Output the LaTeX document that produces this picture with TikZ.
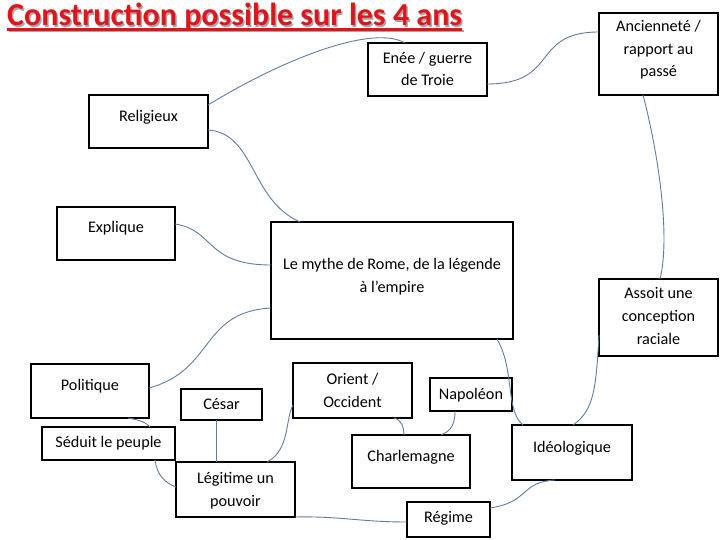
\documentclass[tikz,border=0pt]{standalone}
\usepackage{fontspec}
\setmainfont{Carlito}
\definecolor{titred}{RGB}{222,22,28}
\definecolor{shadowgrey}{RGB}{165,165,165}
\definecolor{linkc}{RGB}{95,125,155}
\newcommand\mybox[5]{\node[box, minimum width={(#4-#2)*1pt}, minimum height={(#5-#3)*1pt}] (#1) at ({(#2+#4)/2},{(#3+#5)/2}) {};}
\tikzset{
  box/.style={draw=black, line width=1.8pt, inner sep=0pt, outer sep=0pt},
  lbl/.style={font=\fontsize{16.2}{22.7}\selectfont, align=center, inner sep=0pt, anchor=base},
  conn/.style={draw=linkc, line width=0.9pt},
  ttl/.style={font=\fontsize{32}{38}\selectfont\bfseries, inner sep=0pt, anchor=base west},
}
\begin{document}
\begin{tikzpicture}[x=1pt,y=-1pt]
\useasboundingbox (0,0) rectangle (720,540);
% title
\node[ttl, text=shadowgrey] (tsh) at (8.5,27.5) {Construction possible sur les 4 ans};
\draw[shadowgrey, line width=2.2pt] ([yshift=-3.5pt]tsh.base west) -- ([yshift=-3.5pt]tsh.base east);
\node[ttl, text=titred] (title) at (7,26) {Construction possible sur les 4 ans};
\draw[titred, line width=2.2pt] ([yshift=-3.5pt]title.base west) -- ([yshift=-3.5pt]title.base east);
% boxes
\mybox{ene}{368}{43}{487}{96}
\mybox{anc}{599}{13}{718}{95}
\mybox{rel}{89}{95}{208}{148}
\mybox{exp}{57}{207}{175}{260}
\mybox{main}{271}{222}{513}{339}
\mybox{ass}{599}{279}{718}{356}
\mybox{pol}{31}{364}{149}{418}
\mybox{ces}{181}{389}{262}{420}
\mybox{sed}{42}{427}{175}{460}
\mybox{leg}{176}{462}{295}{517}
\mybox{ori}{293}{363}{412}{418}
\mybox{nap}{430}{378}{512}{411}
\mybox{cha}{352}{435}{470}{488}
\mybox{ide}{512}{425}{632}{480}
\mybox{reg}{407}{502}{490}{537}
% labels (anchor base = baseline of the last line)
\node[lbl] (eneT) at (427.5,86) {Enée / guerre\\de Troie};
\node[lbl] (ancT) at (658.5,77) {Ancienneté /\\rapport au\\passé};
\node[lbl] (relT) at (148.5,122) {Religieux};
\node[lbl] (expT) at (116,233) {Explique};
\node[lbl, font=\fontsize{16.2}{23}\selectfont] (mainT) at (392,292.5) {Le mythe de Rome, de la légende\\à l’empire};
\node[lbl] (assT) at (658.5,344) {Assoit une\\conception\\raciale};
\node[lbl] (polT) at (90,390.5) {Politique};
\node[lbl] (cesT) at (221.5,409) {César};
\node[lbl] (sedT) at (108.5,447) {Séduit le peuple};
\node[lbl] (legT) at (235.5,506) {Légitime un\\pouvoir};
\node[lbl] (oriT) at (352.5,407) {Orient /\\Occident};
\node[lbl] (napT) at (471,399.5) {Napoléon};
\node[lbl] (chaT) at (411,461) {Charlemagne};
\node[lbl] (ideT) at (572,452.5) {Idéologique};
\node[lbl] (regT) at (448.5,522.5) {Régime};
% connectors
\draw[conn] ([yshift=-10pt]rel.north east) .. controls (290,55) and (375,25) .. ([xshift=37pt]ene.north west);
\draw[conn] ([yshift=-41pt]ene.north east) .. controls (560,84) and (530,32) .. ([yshift=-19pt]anc.north west);
\draw[conn] ([yshift=-35pt]rel.north east) .. controls (255,133) and (250,200) .. ([xshift=29pt]main.north west);
\draw[conn] ([yshift=-17pt]exp.north east) .. controls (215,230) and (205,265) .. ([yshift=-43pt]main.north west);
\draw[conn] ([yshift=-86pt]main.north west) .. controls (200,312) and (215,370) .. ([yshift=-24pt]pol.north east);
\draw[conn] ([xshift=44pt]anc.south west) .. controls (660,160) and (670,240) .. ([xshift=61pt]ass.north west);
\draw[conn] ([xshift=-16pt]main.south east) .. controls (515,370) and (505,410) .. ([xshift=11pt]ide.north west);
\draw[conn] ([yshift=-56pt]ass.north west) .. controls (596,385) and (595,410) .. ([xshift=61pt]ide.north west);
\draw[conn] ([xshift=97pt]pol.south west) .. controls (140,420) and (147,423) .. ([xshift=108pt]sed.north west);
\draw[conn] ([xshift=113pt]sed.south west) .. controls (157,475) and (165,483) .. ([yshift=-25pt]leg.north west);
\draw[conn] ([xshift=35pt]ces.south west) -- ([xshift=40pt]leg.north west);
\draw[conn] ([yshift=-42pt]ori.north west) .. controls (285,420) and (290,450) .. ([xshift=91pt]leg.north west);
\draw[conn] (leg.south east) .. controls (340,516) and (360,522) .. ([yshift=-20pt]reg.north west);
\draw[conn] ([xshift=101pt]ori.south west) .. controls (402,420) and (404,428) .. ([xshift=52pt]cha.north west);
\draw[conn] ([xshift=25pt]nap.south west) .. controls (455,428) and (448,432) .. ([xshift=89pt]cha.north west);
\draw[conn] ([xshift=43pt]ide.south west) .. controls (520,482) and (530,502) .. ([yshift=-6pt]reg.north east);
\end{tikzpicture}
\end{document}
